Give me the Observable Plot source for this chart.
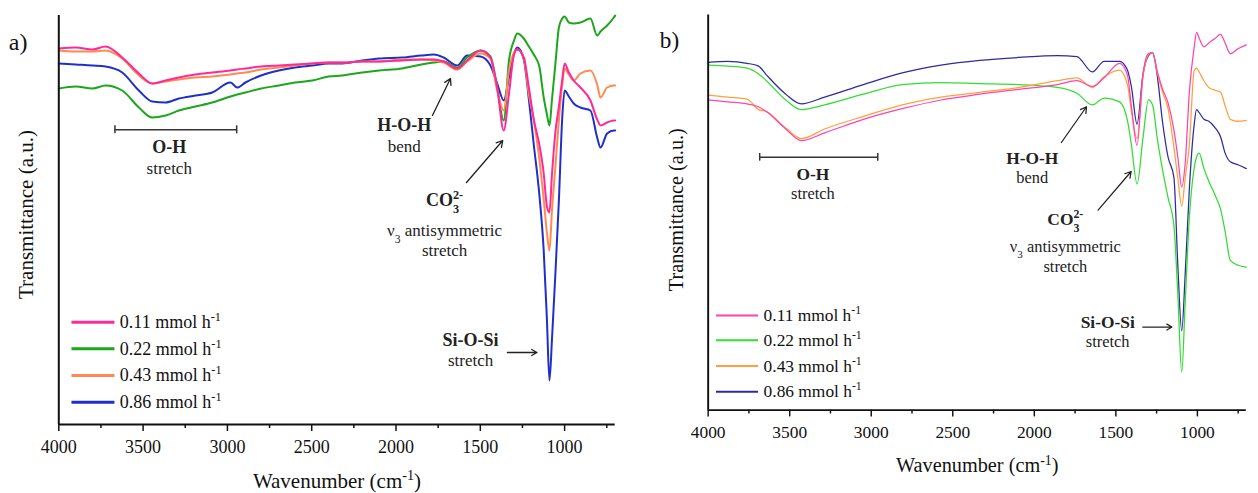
<!DOCTYPE html>
<html><head><meta charset="utf-8">
<script src="https://cdn.jsdelivr.net/npm/d3@7"></script>
<script src="https://cdn.jsdelivr.net/npm/@observablehq/plot@0.6"></script>
<style>
html,body{margin:0;padding:0;background:#fff;}
#wrap{position:relative;width:1258px;height:493px;overflow:hidden;background:#fff;}
#pa{position:absolute;left:0;top:0;}
#pb{position:absolute;left:630px;top:0;}
#wrap svg, #wrap svg text, #wrap svg g {font-family:"Liberation Serif","Times New Roman",serif !important;}
</style></head><body><div id="wrap"><div id="pa"></div><div id="pb"></div></div>
<script>
// ---------- data ----------
const seriesNames = ["0.11 mmol h^{-1}", "0.22 mmol h^{-1}", "0.43 mmol h^{-1}", "0.86 mmol h^{-1}"];
const majorTicks = [4000, 3500, 3000, 2500, 2000, 1500, 1000];
const minorTicks = [3750, 3250, 2750, 2250, 1750, 1250, 750];

// panel a: wavenumber (cm-1) and transmittance (a.u.)
const wnA = [4000,3900,3800,3723,3624,3525,3446,3367,3288,3190,3090,2982,2942,2893,2800,2695,2600,2497,2400,2320,2200,2100,1963,1850,1776,1717,1637,1578,1499,1440,1400,1361,1330,1300,1281,1242,1212,1183,1150,1124,1105,1090,1075,1055,1034,1014,1000,975,946,906,847,807,787,748,708,700];
const tA011 = [376,377,375,378,367,351,341,344,347,350,352,354,355,356,358,359,360,361,362,362,363,363,364,365,365,363,356,364,374,367,337,294,331,370,375,367,337,305,280,251,218,212,250,292,318,345,361,352,344,337,324,305,299,302,304,304];
const tA022 = [336,338,336,339,334,317,307,309,314,318,322,328,330,332,336,339,342,344,348,349,352,354,356,360,362,363,357,367,374,368,337,304,364,384,391,386,378,370,358,327,310,299,325,360,397,406,408,402,401,402,406,389,393,399,407,409];
const tA043 = [374,373,373,374,366,349,341,343,345,347,348,350,351,352,355,357,359,361,362,362,363,363,365,365,364,362,355,363,371,366,334,314,354,372,375,366,330,305,265,225,192,174,214,257,304,340,356,350,344,351,354,340,327,337,339,339];
const tA086 = [361,360,359,358,352,334,323,322,326,329,332,342,337,342,349,354,357,359,361,361,364,366,367,369,370,367,359,369,368,359,341,324,347,371,377,365,325,280,230,174,105,44,85,150,224,307,334,328,321,317,314,287,277,291,294,294];

// panel b
const wnB = [4000,3881,3762,3691,3643,3524,3429,3286,3048,2810,2572,2334,2096,1858,1739,1644,1572,1477,1429,1405,1370,1334,1300,1275,1245,1215,1180,1144,1120,1096,1075,1049,1020,1005,989,960,930,890,858,830,798,751,700];
const tB011 = [321,319,317,314,309,291,279,287,301,312,321,327,332,337,341,335,344,359,347,315,274,347,369,370,350,333,318,290,262,231,255,330,375,391,385,376,380,385,389,380,369,374,378];
const tB022 = [357,356,354,348,341,321,311,316,327,337,339,338,337,334,328,316,323,319,300,275,234,281,321,316,280,250,220,191,120,39,110,200,250,262,266,250,237,222,208,185,155,150,148];
const tB043 = [326,324,322,311,309,292,281,291,304,316,324,329,334,341,344,334,345,352,337,310,281,344,368,370,348,330,312,272,240,211,240,275,351,354,350,341,334,331,329,315,301,299,300];
const tB086 = [360,361,359,356,347,327,317,324,337,349,357,362,365,367,366,350,361,361,352,335,296,347,367,370,345,300,262,241,150,82,140,230,295,311,308,301,299,292,283,266,257,254,250];

const colorsA = ["#ff2a98", "#1ca61c", "#ff8a52", "#1f30c8"];
const colorsB = ["#ff44aa", "#33dd33", "#ffa040", "#2c2ca0"];

// annotations: [wavenumber, transmittance]
const annA = {
  oh: {x1: 3667, x2: 2945, y: 294.7, tx: 3345, ty: 277, sy: 256},
  hoh: {ax1: 1784, ay1: 309, ax2: 1677, ay2: 346, tx: 1951, ty: 299, sy: 278},
  co3: {ax1: 1582, ay1: 242, ax2: 1367, ay2: 284, tx: 1712, ty: 224, vy: 194, sy: 174},
  sio: {tx: 1558, ty: 84, sy: 64, ax1: 1339, ax2: 1164, ay: 72},
  leg: {x1: 3922, x2: 3667, tx: 3638, ys: [102.3, 75.7, 49, 22.3]}
};
const annB = {
  oh: {x1: 3684, x2: 2960, y: 261.7, tx: 3358, ty: 244, sy: 224},
  hoh: {ax1: 1834, ay1: 277, ax2: 1680, ay2: 314, tx: 2013, ty: 261, sy: 241},
  co3: {ax1: 1609, ay1: 207, ax2: 1406, ay2: 247, tx: 1810, ty: 197, vy: 169, sy: 148},
  sio: {tx: 1550, ty: 91, sy: 71, ax1: 1335, ax2: 1156, ay: 86},
  leg: {x1: 3949, x2: 3691, tx: 3660, ys: [98, 72.3, 45.7, 19]}
};

// ---------- rich text (sub/superscripts) ----------
function richify(svg) {
  svg.querySelectorAll("text").forEach(t => {
    const els = t.querySelectorAll("tspan").length ? Array.from(t.querySelectorAll("tspan")) : [t];
    els.forEach(el => {
      const s = el.textContent;
      if (!/[\^_]\{/.test(s)) return;
      while (el.firstChild) el.removeChild(el.firstChild);
      const parts = s.split(/([\^_]\{[^}]*\})/);
      let prevSub = null;
      parts.forEach(p => {
        if (!p) return;
        const m = p.match(/^([\^_])\{([^}]*)\}$/);
        if (m) {
          const ts = document.createElementNS("http://www.w3.org/2000/svg", "tspan");
          ts.style.fontSize = "0.68em";
          ts.setAttribute("baseline-shift", m[1] === "^" ? "super" : "sub");
          if (m[1] === "^" && prevSub) ts.setAttribute("dx", `-${0.5 * prevSub.length}em`);
          ts.textContent = m[2];
          el.appendChild(ts);
          prevSub = m[1] === "_" ? m[2] : null;
        } else {
          el.appendChild(document.createTextNode(p));
          prevSub = null;
        }
      });
    });
  });
}

function panel(opts) {
  const {wn, series, colors, lw, legLw, ann, letter, width, marginLeft, marginRight, ytdx, ytdy} = opts;
  const order = [3, 1, 2, 0];
  const marks = [];
  order.forEach(i => {
    const rows = wn.map((w, k) => ({wn: w, t: series[i][k]}));
    marks.push(Plot.line(rows, {x: "wn", y: "t", stroke: colors[i], strokeWidth: lw, curve: "monotone-x"}));
  });
  // axes
  marks.push(Plot.ruleY([0], {stroke: "#111", strokeWidth: 2}));
  marks.push(Plot.ruleX([4000], {stroke: "#111", strokeWidth: 2}));
  marks.push(Plot.axisX({ticks: majorTicks, tickSize: 7, tickPadding: 9, fontSize: 18, tickFormat: d => String(d), label: null, strokeWidth: 1.5, stroke: "#111", fill: "#111"}));
  marks.push(Plot.axisX({ticks: minorTicks, tickSize: 4, tickFormat: () => "", label: null, strokeWidth: 1.5, stroke: "#111"}));
  marks.push(Plot.text(["Wavenumber (cm^{-1})"], {text: d => d, frameAnchor: "bottom", lineAnchor: "middle", textAnchor: "middle", dy: 57, fontSize: 21, fill: "#111"}));
  marks.push(Plot.text(["Transmittance (a.u.)"], {text: d => d, frameAnchor: "left", textAnchor: "middle", lineAnchor: "middle", rotate: -90, dx: ytdx, dy: ytdy, fontSize: 21, fill: "#111"}));
  marks.push(Plot.text([letter], {text: d => d, frameAnchor: "top-left", dx: -50, dy: 27, textAnchor: "start", lineAnchor: "middle", fontSize: 24, fill: "#111"}));
  // O-H
  const ink = "#222";
  marks.push(Plot.ruleY([ann.oh], {x1: "x1", x2: "x2", y: "y", stroke: "#333", strokeWidth: 1.5}));
  marks.push(Plot.ruleX([ann.oh.x1, ann.oh.x2], {x: d => d, y1: ann.oh.y - 4, y2: ann.oh.y + 4, stroke: "#333", strokeWidth: 1.5}));
  marks.push(Plot.text([{x: ann.oh.tx, y: ann.oh.ty, s: "O-H"}], {x: "x", y: "y", text: "s", fontWeight: "bold", fontSize: 18, fill: ink}));
  marks.push(Plot.text([{x: ann.oh.tx, y: ann.oh.sy, s: "stretch"}], {x: "x", y: "y", text: "s", fontSize: 17, fill: ink}));
  // H-O-H
  marks.push(Plot.arrow([ann.hoh], {x1: "ax1", y1: "ay1", x2: "ax2", y2: "ay2", stroke: ink, strokeWidth: 1.3, headLength: 8}));
  marks.push(Plot.text([{x: ann.hoh.tx, y: ann.hoh.ty, s: "H-O-H"}], {x: "x", y: "y", text: "s", fontWeight: "bold", fontSize: 18, fill: ink}));
  marks.push(Plot.text([{x: ann.hoh.tx, y: ann.hoh.sy, s: "bend"}], {x: "x", y: "y", text: "s", fontSize: 17, fill: ink}));
  // CO3
  marks.push(Plot.arrow([ann.co3], {x1: "ax1", y1: "ay1", x2: "ax2", y2: "ay2", stroke: ink, strokeWidth: 1.3, headLength: 8}));
  marks.push(Plot.text([{x: ann.co3.tx, y: ann.co3.ty, s: "CO_{3}^{2-}"}], {x: "x", y: "y", text: "s", fontWeight: "bold", fontSize: 18, fill: ink}));
  marks.push(Plot.text([{x: ann.co3.tx, y: ann.co3.vy, s: "ν_{3} antisymmetric"}], {x: "x", y: "y", text: "s", fontSize: 17, fill: ink}));
  marks.push(Plot.text([{x: ann.co3.tx, y: ann.co3.sy, s: "stretch"}], {x: "x", y: "y", text: "s", fontSize: 17, fill: ink}));
  // Si-O-Si
  marks.push(Plot.arrow([ann.sio], {x1: "ax1", y1: "ay", x2: "ax2", y2: "ay", stroke: ink, strokeWidth: 1.3, headLength: 7}));
  marks.push(Plot.text([{x: ann.sio.tx, y: ann.sio.ty, s: "Si-O-Si"}], {x: "x", y: "y", text: "s", fontWeight: "bold", fontSize: 18, fill: ink}));
  marks.push(Plot.text([{x: ann.sio.tx, y: ann.sio.sy, s: "stretch"}], {x: "x", y: "y", text: "s", fontSize: 17, fill: ink}));
  // legend
  seriesNames.forEach((name, i) => {
    const y = ann.leg.ys[i];
    marks.push(Plot.ruleY([y], {x1: ann.leg.x1, x2: ann.leg.x2, y: d => d, stroke: colors[i], strokeWidth: legLw}));
    marks.push(Plot.text([name], {x: ann.leg.tx, y: y, text: d => d, textAnchor: "start", fontSize: 18, fill: "#111"}));
  });
  const svg = Plot.plot({
    width, height: 493,
    marginLeft, marginRight, marginTop: 15, marginBottom: 69,
    x: {domain: [4000, 700], axis: null, label: null},
    y: {domain: [0, 409], axis: null, label: null},
    style: {fontFamily: '"Liberation Serif", "Times New Roman", serif', background: "transparent", color: "#111"},
    marks
  });
  richify(svg);
  return svg;
}

document.getElementById("pa").appendChild(panel({
  wn: wnA, series: [tA011, tA022, tA043, tA086], colors: colorsA, lw: 2, legLw: 3, ann: annA, letter: "a)",
  width: 630, marginLeft: 58.3, marginRight: 15.3, ytdx: -33, ytdy: -5.5
}));
document.getElementById("pb").appendChild(panel({
  wn: wnB, series: [tB011, tB022, tB043, tB086], colors: colorsB, lw: 1.3, legLw: 2, ann: annB, letter: "b)",
  width: 650, marginLeft: 80.4, marginRight: 12.6, ytdx: -32.4, ytdy: -3
}));
</script></body></html>
